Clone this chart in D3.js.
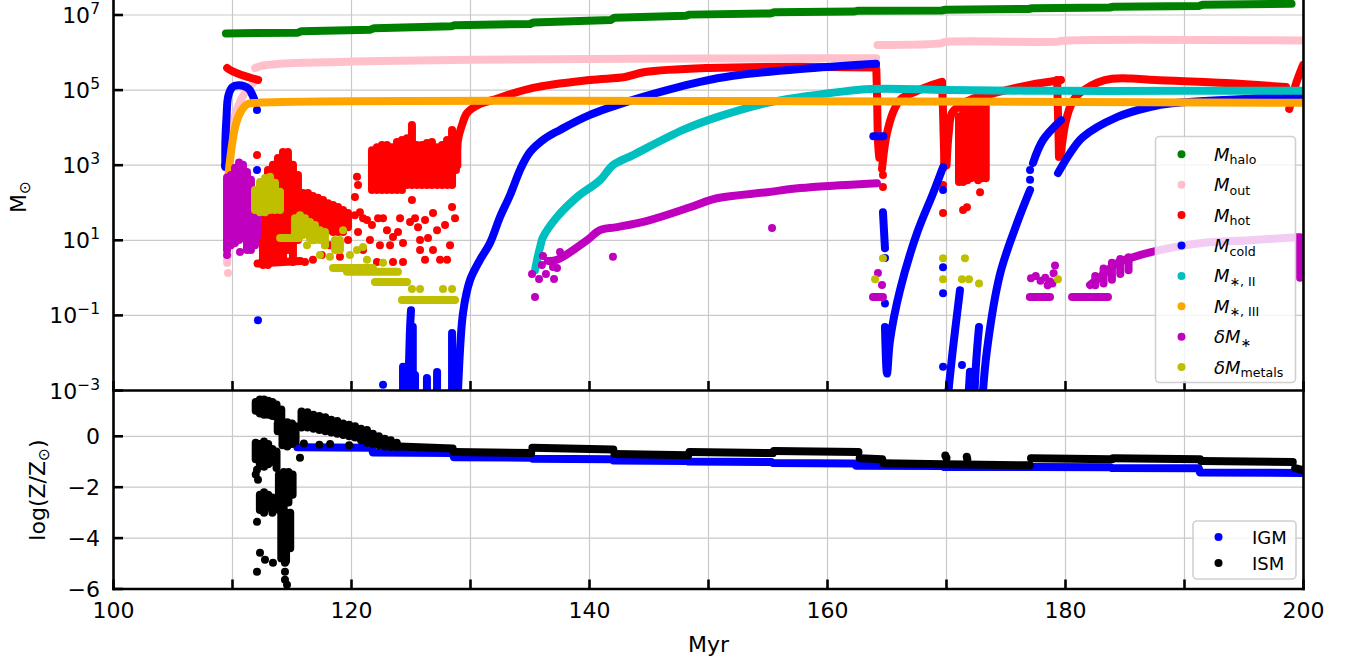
<!DOCTYPE html>
<html><head><meta charset="utf-8">
<script src="https://cdn.jsdelivr.net/npm/d3@7"></script>
<style>
body{margin:0;background:#fff}
svg{display:block}
text{font-family:"DejaVu Sans",sans-serif;fill:#000}
</style>
</head><body>
<svg id="chart" width="1356" height="665"></svg>
<script>
// ================= DATA (time in Myr, top panel values are log10(M/Msun)) =================
const xTickValues = [100,110,120,130,140,150,160,170,180,190,200];
const xTickLabels = [100,120,140,160,180,200];
const topTickExponents = [-3,-1,1,3,5,7];
const botTickValues = [0,-2,-4,-6];

// M_halo
const haloTracks = [[[109.45,6.51],[115.5,6.53],[115.8,6.57],[121.6,6.61],[121.9,6.65],[128.4,6.70],[128.7,6.73],[135.0,6.76],[135.3,6.80],[141.8,6.87],[142.1,6.93],[148.1,6.98],[148.4,7.01],[155.2,7.04],[155.5,7.07],[162.2,7.09],[162.5,7.11],[169.6,7.12],[169.9,7.14],[176.9,7.16],[177.2,7.18],[183.7,7.20],[184.0,7.22],[191.2,7.24],[191.5,7.27],[199.0,7.30]]];
const haloSpans = [];
const haloDots = [];

// M_out
const outTracks = [
 [[109.55,0.4],[109.6,1.5],[109.7,2.5],[109.85,3.5],[110.2,4.3],[110.8,4.8],[111.5,5.1],[111.95,5.25]],
 [[111.9,5.59],[112.5,5.65],[114,5.70],[116,5.73],[120,5.76],[124,5.78],[130,5.81],[140,5.83],[150,5.84],[158,5.845],[164.1,5.85]],
 [[164.2,6.2],[169.6,6.25],[169.8,6.28],[179.4,6.29],[179.6,6.31],[199.96,6.32]]
];
const outSpans = [];
const outDots = [[109.62,0.13],[109.62,0.61]];

// M_hot
const hotTracks = [
 [[109.55,5.59],[110.0,5.50],[110.6,5.42],[111.2,5.36],[111.7,5.31],[112.15,5.27]],
 [[112.1,0.38],[115.7,0.45]],
 [[128.9,3.0],[128.95,3.67],[129.29,4.07],[129.71,4.39],[130.8,4.63],[131.89,4.74],[135.25,5.06],[140.04,5.27],[142.98,5.35],[144.66,5.48],[150.13,5.59],[157.69,5.62],[164.08,5.60]],
 [[164.1,5.58],[164.16,4.9],[164.2,4.2],[164.25,3.6],[164.35,3.2]],
 [[164.58,2.9],[164.8,3.5],[165.0,3.86],[165.5,4.4],[166.09,4.74],[166.6,4.85],[167.7,5.0],[168.7,5.13],[169.62,5.22]],
 [[169.62,5.2],[169.7,4.5],[169.75,3.9],[169.8,3.3],[169.8,2.95]],
 [[170.0,3.0],[170.2,3.9],[170.46,4.39],[171.2,4.6],[171.97,4.74],[174.41,4.95],[177.02,5.14],[179.62,5.27]],
 [[179.3,5.27],[179.35,4.6],[179.4,4.0],[179.45,3.22]],
 [[179.6,3.3],[179.96,4.07],[180.3,4.47],[180.8,4.8],[181.55,5.0],[182.7,5.2],[183.91,5.3],[185.5,5.31],[187.52,5.27],[193.49,5.19],[198.53,5.08]],
 [[198.8,4.5],[199.0,4.74],[199.4,5.2],[199.96,5.67]]
];
const hotSpans = [
 [112.56,0.34,2.07],[112.98,0.34,2.87],[113.40,0.42,3.01],[113.82,0.61,3.19],[114.24,0.42,3.35],[114.66,0.74,3.35],[115.08,0.42,3.01],[115.50,1.01,2.74],
 [115.92,1.41,2.26],[116.34,1.41,2.26],[116.76,1.41,2.18],[117.18,1.35,2.13],[117.61,1.27,2.07],[118.03,1.27,1.99],[118.45,1.22,1.94],[118.87,1.22,1.89],[119.29,1.22,1.81],[119.71,1.35,1.73],
 [121.72,2.34,3.40],[122.14,2.34,3.48],[122.56,2.34,3.54],[122.98,2.34,3.54],[123.40,2.34,3.48],[123.82,2.34,3.62],[124.24,2.34,3.67],[124.66,2.47,3.72],[125.08,2.47,4.07],[125.50,2.47,3.54],[125.92,2.47,3.54],[126.34,2.47,3.59],[126.76,2.47,3.62],[127.19,2.47,3.48],[127.61,2.47,3.54],[128.03,2.47,3.67],[128.45,2.47,3.94],[128.78,2.87,3.67],
 [171.05,2.55,4.3],[171.4,2.55,4.6],[171.75,2.6,4.7],[172.05,2.65,4.72],[172.65,2.6,4.8],[173.0,2.65,4.85],[173.3,2.65,4.88]
];
const hotDots = [[112.06,3.27],[120.29,1.67],[120.71,1.75],[120.97,1.59],[121.30,1.54],[121.72,1.41],[122.23,1.59],[122.65,1.59],[122.98,1.27],[123.24,0.87],[123.49,1.09],[123.49,0.42],[122.14,0.42],[124.08,1.59],[124.33,0.93],[124.33,0.42],[124.92,1.49],[125.34,1.59],[125.59,1.35],[125.76,1.01],[125.76,0.74],[126.18,1.54],[126.18,0.48],[126.85,1.73],[126.85,0.74],[127.19,1.27],[127.44,0.48],[127.86,1.41],[128.28,0.87],[128.45,1.89],[128.70,1.59],[120.97,0.74],[121.55,1.01],[122.39,0.87],[116.76,0.48],[119.03,0.56],[118.19,0.87],[114.58,1.27],[113.40,0.87],[120.55,1.22],[123.91,1.22],[126.43,1.06],[128.03,0.48],[120.46,2.69],[120.55,2.47],[120.29,2.15],[125.08,2.07],[119.71,1.01],[117.5,0.61],[116.09,0.42],
 [164.66,2.74],[164.66,2.42],[169.71,2.47],[169.71,1.73],[171.13,2.6],[172.82,2.28],[171.72,1.88],[171.39,1.81]];

// M_cold
const coldTracks = [
 [[109.4,2.95],[109.4,3.6],[109.5,4.3],[109.65,4.85],[110.0,5.08],[110.5,5.13],[111.0,5.1],[111.4,5.02],[111.7,4.85],[111.95,4.65]],
 [[124.33,-3.4],[124.33,-2.37]],
 [[124.75,-3.4],[124.9,-1.5],[125.0,-0.86]],
 [[125.15,-3.4],[125.15,-1.3]],
 [[125.34,-3.4],[125.34,-2.59]],
 [[126.34,-3.4],[126.34,-2.67]],
 [[127.19,-3.4],[127.19,-2.51]],
 [[128.45,-3.4],[128.45,-1.47]],
 [[128.9,-3.4],[128.95,-3.0],[129.37,-0.94],[129.96,-0.06],[130.8,0.48],[131.64,0.93],[132.48,1.62],[133.32,2.2],[134.2,2.9],[135.0,3.35],[136.2,3.7],[137.52,3.94],[140.04,4.34],[143.66,4.74],[146.51,5.0],[149.29,5.22],[152.06,5.38],[157.69,5.56],[164.08,5.70]],
 [[163.85,3.77],[164.7,3.77]],
 [[164.66,1.75],[164.83,0.79]],
 [[164.83,-1.31],[165.0,-2.55],[165.25,-1.67],[166.09,-0.33],[167.52,1.19],[168.87,2.25],[169.71,2.95]],
 [[170.04,-3.4],[170.5,-2.0],[171.13,-0.33]],
 [[171.8,-3.4],[171.97,-2.5]],
 [[172.3,-3.4],[172.5,-2.2],[172.73,-1.31]],
 [[172.98,-3.4],[173.4,-1.93],[174.5,0.1],[175.92,1.45],[177.02,2.34]],
 [[177.27,3.06],[178.11,3.67],[179.62,4.2]],
 [[179.37,2.79],[180.38,3.32],[181.47,3.75],[184.33,4.28],[187.1,4.55],[188.95,4.65],[196.43,4.79],[199.96,4.87]]
];
const coldSpans = [];
const coldDots = [[109.37,3.0],[112.06,4.47],[112.06,2.87],[112.14,-1.13],[122.65,-2.85],[164.83,0.53],[164.83,-0.68],[169.71,2.34],[169.71,0.28],[169.71,-0.41],[169.71,-2.37],[171.3,-2.32],[177.02,2.61],[177.02,2.87]];

// M_*,II
const popIITracks = [[[135.42,0.2],[135.59,0.47],[135.84,0.81],[136.09,1.08],[137.27,1.62],[138.95,2.15],[140.88,2.6],[141.97,3.0],[143.66,3.27],[147.86,3.94],[150.71,4.28],[154.92,4.66],[157.69,4.81],[163.66,5.03],[170,5.0],[180,4.98],[190,4.98],[199.96,4.98]]];
const popIISpans = [];
const popIIDots = [];

// M_*,III
const popIIITracks = [[[109.55,2.3],[109.62,2.55],[109.79,3.13],[110.21,4.0],[110.63,4.39],[111.22,4.62],[112.06,4.66],[199.96,4.66]]];
const popIIISpans = [];
const popIIIDots = [];

// delta M_*
const dStarTracks = [
 [[136.5,0.45],[137.27,0.48],[139.79,1.0],[140.88,1.27],[142.31,1.35],[145.08,1.54],[148.45,1.88],[150.71,2.12],[154.92,2.28],[157.69,2.39],[164.16,2.52]],
 [[163.82,-0.51],[164.66,-0.51]],
 [[177.0,-0.51],[178.7,-0.51]],
 [[180.55,-0.51],[183.57,-0.51]],
 [[182.06,-0.19],[182.9,0.02],[184.33,0.39],[185.67,0.55],[187.1,0.68],[191.3,0.92],[195.5,1.0],[199.45,1.08]]
];
const dStarSpans = [[109.54,0.74,2.67],[109.87,0.87,2.74],[110.21,0.93,2.93],[110.55,1.01,3.07],[110.88,1.06,3.01],[111.22,0.74,2.82],[111.55,0.74,2.61],[111.89,0.87,2.21],[112.14,1.14,1.81],
 [182.5,-0.2,0.05],[183.2,-0.15,0.25],[183.9,-0.05,0.4],[184.6,0.1,0.5],[185.3,0.2,0.55],[199.7,0.0,1.08]];
const dStarDots = [[109.54,0.61],[110.63,0.69],[135.17,0.10],[135.42,-0.51],[135.76,-0.03],[136.34,0.10],[137.02,-0.03],[136.09,0.58],[136.0,0.34],[136.93,0.29],[137.27,0.26],[137.52,0.69],[141.97,0.56],[155.34,1.33],[164.24,0.13],[164.58,-0.19],[177.1,-0.01],[177.5,0.05],[177.9,-0.08],[178.3,0.0],[178.7,-0.1],[179.0,0.12],[179.12,0.33],[178.5,-0.2],[178.9,-0.15]];

// delta M_metals
const dMetalTracks = [
 [[114.0,1.06],[115.6,1.06]],
 [[118.45,0.26],[121.8,0.26]],
 [[119.62,0.16],[123.9,0.16]],
 [[121.97,-0.11],[124.66,-0.11]],
 [[124.24,-0.59],[128.7,-0.59]]
];
const dMetalSpans = [[111.89,1.81,2.34],[112.31,1.75,2.55],[112.73,1.75,2.66],[113.15,1.81,2.69],[113.57,1.81,2.53],[113.99,1.81,2.29],[115.25,1.14,1.59],[115.67,1.22,1.67],[116.09,1.22,1.59],[116.51,1.06,1.49],[116.93,1.01,1.41],[117.35,1.01,1.27],[117.77,0.87,1.22],[118.61,0.74,1.01],[119.03,0.74,1.01]];
const dMetalDots = [[125.08,-0.30],[125.76,-0.30],[127.69,-0.30],[128.45,-0.30],[116.26,0.87],[117.35,0.61],[118.19,0.56],[119.29,1.27],[120.97,0.82],[121.30,0.48],[122.65,0.40],[119.87,0.61],[120.46,0.74],[118.78,0.74],[117.77,0.87],[116.76,1.0],[115.92,1.14],[164.0,-0.04],[164.66,0.52],[169.71,0.52],[169.71,-0.04],[171.3,-0.04],[171.55,0.52],[171.89,-0.04],[172.73,-0.15],[179.37,-0.04]];

// bottom panel: log(Z/Zsun)
const igmTracks = [[[115.45,-0.43],[121.7,-0.45],[121.8,-0.64],[128.5,-0.66],[128.6,-0.82],[135.1,-0.84],[135.2,-0.88],[141.9,-0.9],[142.0,-0.95],[148.2,-0.97],[148.3,-0.99],[155.3,-1.01],[155.4,-1.05],[162.3,-1.07],[162.4,-1.16],[169.7,-1.17],[169.8,-1.21],[177.0,-1.21],[177.1,-1.21],[183.8,-1.22],[183.9,-1.25],[191.2,-1.26],[191.3,-1.42],[199.96,-1.44]]];
const igmSpans = [];
const igmDots = [];

const ismTracks = [
 [[124.0,-0.4],[128.5,-0.48]],
 [[128.6,-0.62],[135.1,-0.66]],
 [[135.2,-0.45],[142.0,-0.52]],
 [[142.1,-0.70],[148.3,-0.74]],
 [[148.4,-0.62],[155.4,-0.66]],
 [[155.5,-0.58],[162.6,-0.62]],
 [[162.7,-0.86],[164.6,-0.9]],
 [[164.7,-1.06],[169.8,-1.1]],
 [[169.9,-1.1],[177.0,-1.14]],
 [[177.1,-0.86],[183.9,-0.9]],
 [[184.0,-0.86],[191.3,-0.9]],
 [[191.4,-0.97],[199.1,-1.01]],
 [[199.3,-1.25],[199.96,-1.33]]
];
const ismSpans = [
 [111.95,1.0,1.35],[112.3,0.9,1.45],[112.65,0.85,1.45],[113.0,0.85,1.4],[113.35,0.8,1.35],[113.7,0.75,1.25],[114.1,0.7,1.05],
 [113.8,0.2,0.5],[114.2,-0.35,0.55],[114.6,-0.4,0.55],[115.0,-0.3,0.5],[115.3,-0.2,0.4],
 [111.95,-0.9,-0.25],[112.3,-1.15,-0.3],[112.65,-1.2,-0.2],[113.0,-1.1,-0.3],[113.35,-1.0,-0.5],[113.7,-1.25,-0.6],
 [113.9,-2.9,-1.5],[114.3,-3.0,-1.4],[114.7,-2.6,-1.4],[115.05,-2.3,-1.5],
 [112.3,-2.9,-2.3],[112.65,-3.0,-2.2],[113.0,-2.8,-2.3],[113.35,-3.0,-2.4],
 [114.1,-4.8,-3.0],[114.5,-4.9,-3.0],[114.85,-4.4,-3.0],
 [115.8,0.35,0.97],[116.3,0.35,0.95],[116.8,0.3,0.85],[117.3,0.25,0.8],[117.8,0.2,0.75],[118.3,0.15,0.65],[118.8,0.1,0.6],[119.3,0.05,0.5],[119.8,0.0,0.45],[120.3,-0.05,0.4],[120.8,-0.15,0.3],[121.3,-0.25,0.25],[121.8,-0.3,0.1],[122.3,-0.35,0.0],[122.8,-0.4,-0.1],[123.3,-0.42,-0.15],[123.8,-0.42,-0.25]
];
const ismDots = [[112.06,-1.31],[112.14,-1.71],[112.06,-3.36],[112.31,-4.58],[112.73,-4.85],[112.06,-5.32],[113.4,-4.97],[114.41,-4.97],[114.41,-5.32],[114.41,-5.64],[114.58,-5.83],[115.67,-0.84],[111.95,-1.5],
 [114.6,-0.3],[116.0,-0.28],[117.3,-0.33],[118.2,-0.3],[119.8,-0.35],[169.9,-0.75],[170.0,-0.85],[171.7,-0.8],[171.75,-0.9]];

// legend
const topLegendNames = ["halo","out","hot","cold","II","III","dstar","dmetals"];
const topColors = ["#008000","#ffc0cb","#ff0000","#0000ff","#00bfbf","#ffa500","#bf00bf","#bfbf00"];
const botLegendNames = ["IGM","ISM"];
const botColors = ["#0000ff","#000000"];

// ================= DRAWING =================
const svg = d3.select("#chart");
svg.append("rect").attr("width",1356).attr("height",665).attr("fill","#fff");

const L = 113.5, R = 1303.5, TOP = -5, MID = 390.5, BOT = 589;
const x = d3.scaleLinear().domain([100,200]).range([L,R]);
const yTop = d3.scaleLog().domain([1e-3,1e7]).range([MID,15]);
const yBot = d3.scaleLinear().domain([-6,1.8]).range([BOT,MID]);
const yT = v => yTop(Math.pow(10, v));
const yB = v => yBot(v);

const defs = svg.append("defs");
defs.append("clipPath").attr("id","clipTop").append("rect").attr("x",L).attr("y",TOP).attr("width",R-L).attr("height",MID-TOP);
defs.append("clipPath").attr("id","clipBot").append("rect").attr("x",L).attr("y",MID).attr("width",R-L).attr("height",BOT-MID);

const gridColor = "#c9c9c9";
const gGrid = svg.append("g");
xTickValues.slice(1,-1).forEach(t=>{
  gGrid.append("line").attr("x1",x(t)).attr("x2",x(t)).attr("y1",TOP).attr("y2",MID).attr("stroke",gridColor).attr("stroke-width",1.2);
  gGrid.append("line").attr("x1",x(t)).attr("x2",x(t)).attr("y1",MID).attr("y2",BOT).attr("stroke",gridColor).attr("stroke-width",1.2);
});
topTickExponents.slice(1).forEach(e=>{
  gGrid.append("line").attr("x1",L).attr("x2",R).attr("y1",yT(e)).attr("y2",yT(e)).attr("stroke",gridColor).attr("stroke-width",1.2);
});
botTickValues.slice(0,-1).forEach(v=>{
  gGrid.append("line").attr("x1",L).attr("x2",R).attr("y1",yB(v)).attr("y2",yB(v)).attr("stroke",gridColor).attr("stroke-width",1.2);
});

const R_PT = 4;
function drawSet(g, yf, color, tracks, spans, dots, smooth){
  const line = d3.line().x(d=>x(d[0])).y(d=>yf(d[1]));
  if (smooth) line.curve(d3.curveCatmullRom.alpha(0.5));
  const straight = d3.line().x(d=>x(d[0])).y(d=>yf(d[1]));
  const sp = spans.map(s=>[[s[0],s[1]],[s[0],s[2]]]);
  const common = sel => sel.attr("fill","none").attr("stroke",color)
    .attr("stroke-width",2*R_PT).attr("stroke-linecap","round").attr("stroke-linejoin","round");
  g.append("g").selectAll("path").data(tracks).join("path").attr("d", line).call(common);
  g.append("g").selectAll("path").data(sp).join("path").attr("d", straight).call(common);
  g.append("g").selectAll("circle").data(dots).join("circle")
    .attr("cx",d=>x(d[0])).attr("cy",d=>yf(d[1])).attr("r",R_PT).attr("fill",color);
}

const gTop = svg.append("g").attr("clip-path","url(#clipTop)");
drawSet(gTop, yT, topColors[0], haloTracks, haloSpans, haloDots, false);
drawSet(gTop, yT, topColors[1], outTracks, outSpans, outDots, true);
drawSet(gTop, yT, topColors[2], hotTracks, hotSpans, hotDots, true);
drawSet(gTop, yT, topColors[3], coldTracks, coldSpans, coldDots, true);
drawSet(gTop, yT, topColors[4], popIITracks, popIISpans, popIIDots, true);
drawSet(gTop, yT, topColors[5], popIIITracks, popIIISpans, popIIIDots, true);
drawSet(gTop, yT, topColors[6], dStarTracks, dStarSpans, dStarDots, true);
drawSet(gTop, yT, topColors[7], dMetalTracks, dMetalSpans, dMetalDots, false);

const gBot = svg.append("g").attr("clip-path","url(#clipBot)");
drawSet(gBot, yB, botColors[0], igmTracks, igmSpans, igmDots, false);
drawSet(gBot, yB, botColors[1], ismTracks, ismSpans, ismDots, false);

// spines
const gAx = svg.append("g").attr("stroke","#000").attr("stroke-width",2.6).attr("fill","none");
gAx.append("line").attr("x1",L).attr("x2",L).attr("y1",-2).attr("y2",BOT+1.3);
gAx.append("line").attr("x1",R).attr("x2",R).attr("y1",-2).attr("y2",BOT+1.3);
gAx.append("line").attr("x1",L-1.3).attr("x2",R+1.3).attr("y1",MID).attr("y2",MID);
gAx.append("line").attr("x1",L-1.3).attr("x2",R+1.3).attr("y1",BOT).attr("y2",BOT);

// ticks (inward)
const TL = 9.5;
xTickValues.forEach(t=>{
  gAx.append("line").attr("x1",x(t)).attr("x2",x(t)).attr("y1",MID).attr("y2",MID-TL);
  gAx.append("line").attr("x1",x(t)).attr("x2",x(t)).attr("y1",BOT).attr("y2",BOT-TL);
});
topTickExponents.forEach(e=>{
  gAx.append("line").attr("x1",L).attr("x2",L+TL).attr("y1",yT(e)).attr("y2",yT(e));
});
botTickValues.forEach(v=>{
  gAx.append("line").attr("x1",L).attr("x2",L+TL).attr("y1",yB(v)).attr("y2",yB(v));
});

// tick labels
const FS = 22;
const gLab = svg.append("g");
xTickLabels.forEach(t=>{
  gLab.append("text").attr("x",x(t)).attr("y",BOT+29).attr("text-anchor","middle").attr("font-size",FS).text(t);
});
topTickExponents.forEach(e=>{
  const tx = gLab.append("text").attr("x",100).attr("y",yT(e)+8).attr("text-anchor","end").attr("font-size",FS);
  tx.append("tspan").text("10");
  tx.append("tspan").attr("font-size",15.5).attr("dy",-9).text(e<0 ? "\u2212"+Math.abs(e) : String(e));
});
botTickValues.forEach(v=>{
  gLab.append("text").attr("x",100).attr("y",yB(v)+8).attr("text-anchor","end").attr("font-size",FS)
    .text(v<0 ? "\u2212"+Math.abs(v) : String(v));
});

// axis titles
gLab.append("text").attr("x",(L+R)/2).attr("y",652).attr("text-anchor","middle").attr("font-size",FS).text("Myr");
const yl1 = gLab.append("text").attr("transform","translate(26,197) rotate(-90)").attr("text-anchor","middle").attr("font-size",FS);
yl1.append("tspan").text("M");
yl1.append("tspan").attr("font-size",15.5).attr("dy",4).text("\u2299");
const yl2 = gLab.append("text").attr("transform","translate(45,490) rotate(-90)").attr("text-anchor","middle").attr("font-size",FS);
yl2.append("tspan").text("log(Z/Z");
yl2.append("tspan").attr("font-size",15.5).attr("dy",4).text("\u2299");
yl2.append("tspan").attr("dy",-4).text(")");

// legends
function legendBox(x0,y0,w,h){
  svg.append("rect").attr("x",x0).attr("y",y0).attr("width",w).attr("height",h).attr("rx",4)
    .attr("fill","#fff").attr("fill-opacity",0.8).attr("stroke","#d0d0d0").attr("stroke-width",1.6);
}
legendBox(1155.5,136.5,140,246);
const LFS = 18, SFS = 12.6;
topLegendNames.forEach((n,i)=>{
  const cy = 154.3 + i*30.4;
  svg.append("circle").attr("cx",1181.5).attr("cy",cy).attr("r",R_PT).attr("fill",topColors[i]);
  const t = svg.append("text").attr("x",1214).attr("y",cy+6.5).attr("font-size",LFS);
  if (n==="dstar" || n==="dmetals") t.append("tspan").attr("font-style","italic").text("\u03b4");
  t.append("tspan").attr("font-style","italic").text("M");
  let sub;
  if (n==="II") sub = "\u2217, II";
  else if (n==="III") sub = "\u2217, III";
  else if (n==="dstar") sub = "\u2217";
  else if (n==="dmetals") sub = "metals";
  else sub = n;
  t.append("tspan").attr("font-size",SFS).attr("dy",3.5).text(sub);
});
legendBox(1193,521,103,58);
botLegendNames.forEach((n,i)=>{
  const cy = 537 + i*26;
  svg.append("circle").attr("cx",1218.5).attr("cy",cy).attr("r",R_PT).attr("fill",botColors[i]);
  svg.append("text").attr("x",1252).attr("y",cy+6.5).attr("font-size",LFS).text(n);
});
</script>
</body></html>
